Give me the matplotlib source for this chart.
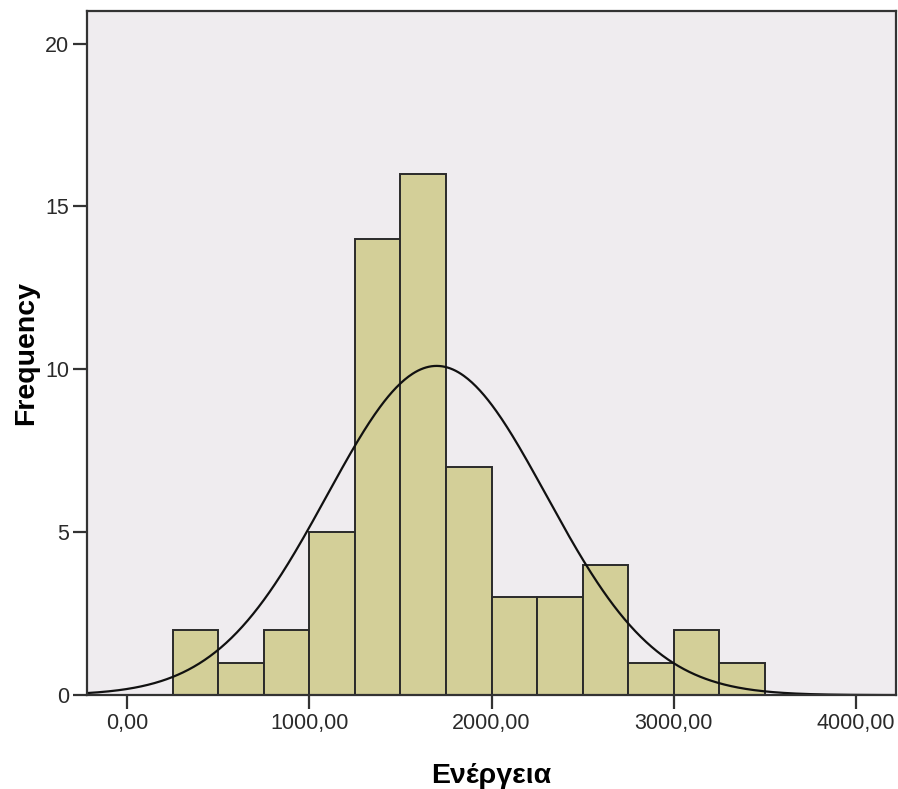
import matplotlib.pyplot as plt
import numpy as np
from matplotlib.ticker import FuncFormatter

# Histogram of Ενέργεια, 250-wide bins, with the fitted normal curve
bin_edges = [250, 500, 750, 1000, 1250, 1500, 1750, 2000, 2250, 2500, 2750, 3000, 3250, 3500]
counts = [2, 1, 2, 5, 14, 16, 7, 3, 3, 4, 1, 2, 1]

fit_mean = 1699.0
fit_sd = 602.0
n_obs = sum(counts)

x_ticks = [0, 1000, 2000, 3000, 4000]
y_ticks = [0, 5, 10, 15, 20]

plt.rcParams["font.family"] = ["Liberation Sans", "DejaVu Sans"]

fig = plt.figure(figsize=(8.98, 7.89), dpi=100)
ax = fig.add_axes([0.0969, 0.119, 0.9009, 0.867])
ax.set_facecolor("#efecef")

edges = np.array(bin_edges, dtype=float)
widths = np.diff(edges)
ax.bar(edges[:-1], counts, width=widths, align="edge",
       color="#d3cf98", edgecolor="#2a2a2a", linewidth=1.4, zorder=2)

bw = widths[0]
xs = np.linspace(-220, 4220, 600)
ys = n_obs * bw / (fit_sd * np.sqrt(2 * np.pi)) * np.exp(-0.5 * ((xs - fit_mean) / fit_sd) ** 2)
ax.plot(xs, ys, color="#111111", linewidth=1.6, zorder=3)

ax.set_xlim(-220, 4220)
ax.set_ylim(0, 21.0)
ax.set_xticks(x_ticks)
ax.set_yticks(y_ticks)
ax.xaxis.set_major_formatter(FuncFormatter(lambda v, _: f"{v:.2f}".replace(".", ",")))

for side in ("left", "right", "top", "bottom"):
    ax.spines[side].set_color("#333333")
    ax.spines[side].set_linewidth(1.6)
    ax.spines[side].set_zorder(4)

ax.tick_params(axis="both", direction="out", length=10, width=1.6,
               color="#333333", labelsize=15.5, labelcolor="#2a2a2a", pad=3)

ax.set_xlabel("Ενέργεια", fontsize=20.5, fontweight="bold", labelpad=21)
ax.set_ylabel("Frequency", fontsize=20.5, fontweight="bold", labelpad=4)

fig.savefig("out.png", dpi=100)
